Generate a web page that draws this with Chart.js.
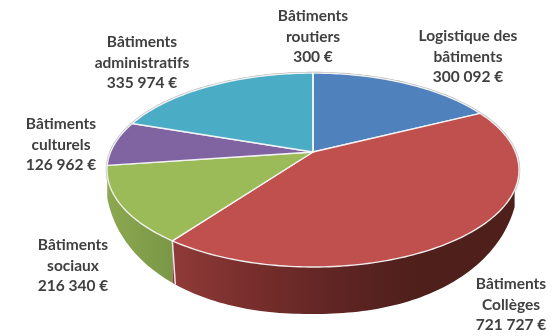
<!DOCTYPE html>
<html lang="fr">
<head>
<meta charset="UTF-8">
<title>Répartition par type de bâtiments</title>
<script src="https://cdn.jsdelivr.net/npm/chart.js"></script>
<style>
  html, body { margin: 0; padding: 0; background: #fff; }
  #wrap { position: relative; width: 552px; height: 336px; }
</style>
</head>
<body>
<div id="wrap"><canvas id="pieChart" width="552" height="336"></canvas></div>
<script>
  const categories = [
    ['Logistique des', 'bâtiments'],
    ['Bâtiments', 'Collèges'],
    ['Bâtiments', 'sociaux'],
    ['Bâtiments', 'culturels'],
    ['Bâtiments', 'administratifs'],
    ['Bâtiments', 'routiers']
  ];
  const amounts = [300092, 721727, 216340, 126962, 335974, 300];
  const sliceColors = ['#4f81bd', '#c0504d', '#9bbb59', '#8064a2', '#4bacc6', '#4bacc6'];
  // label block centres and the baseline of the first line
  const labelSpots = [[468, 41], [511, 289], [73, 250], [61, 129], [142, 47], [313, 21]];

  // tilted disc: top face is a perspective view of the unit circle
  const disc = { cx: 313, cy: 152, rx: 202.4, ry: 93.6, k: 0.186 };
  // lower edge of the wall, as a rounded curve under the top face
  const wall = { cx: 312, y0: 172, rx: 207, ry: 142, p: 2.2 };

  function project(angle) {
    const u = Math.cos(angle), v = -Math.sin(angle), d = 1 + disc.k * v;
    return { x: disc.cx + disc.rx * u / d, y: disc.cy - disc.ry * v / d };
  }

  function wallBottom(x) {
    const t = Math.min(1, Math.abs(x - wall.cx) / wall.rx);
    return wall.y0 + wall.ry * Math.pow(1 - Math.pow(t, wall.p), 1 / wall.p);
  }

  function sampleRim(start, end) {
    const n = Math.max(2, Math.ceil((end - start) / 0.02));
    const pts = [];
    for (let i = 0; i <= n; i++) pts.push(project(start + (end - start) * i / n));
    return pts;
  }

  function sideGradient(ctx, index) {
    const red = index === 1;
    const g = ctx.createLinearGradient(red ? 174 : 107, 0, red ? 420 : 176, 0);
    if (red) {
      g.addColorStop(0, '#8f3a38');
      g.addColorStop(0.35, '#752d2b');
      g.addColorStop(0.7, '#5c2422');
      g.addColorStop(1, '#4e1f1b');
    } else {
      g.addColorStop(0, '#8ca850');
      g.addColorStop(1, '#789645');
    }
    return g;
  }

  const tiltedPie = {
    id: 'tiltedPie',
    beforeDatasetDraw(chart, args) {
      const ctx = chart.ctx;
      const arcs = chart.getDatasetMeta(args.index).data;
      ctx.save();
      ctx.lineJoin = 'round';

      // faint shadow around the disc
      ctx.beginPath();
      sampleRim(0, Math.PI * 2).forEach((p, i) => i ? ctx.lineTo(p.x, p.y) : ctx.moveTo(p.x, p.y));
      ctx.closePath();
      ctx.strokeStyle = 'rgba(90,90,90,0.45)';
      ctx.lineWidth = 2.5;
      ctx.stroke();

      // the wall only shows on the two lower slices
      [1, 2].forEach((i) => {
        const arc = arcs[i];
        const from = i === 1 ? Math.max(arc.startAngle, -0.02) : arc.startAngle;
        const pts = sampleRim(from, arc.endAngle);
        ctx.beginPath();
        pts.forEach((p, j) => j ? ctx.lineTo(p.x, p.y) : ctx.moveTo(p.x, p.y));
        pts.slice().reverse().forEach((p) => ctx.lineTo(p.x, wallBottom(p.x)));
        ctx.closePath();
        ctx.fillStyle = sideGradient(ctx, i);
        ctx.fill();
      });

      // white seam between the two walls
      const seam = project(arcs[1].endAngle);
      ctx.beginPath();
      ctx.moveTo(seam.x, seam.y);
      ctx.lineTo(seam.x + 3, wallBottom(seam.x + 3));
      ctx.strokeStyle = '#e8e8e8';
      ctx.lineWidth = 1.5;
      ctx.stroke();

      // top face, one polygon per slice
      arcs.forEach((arc, i) => {
        ctx.beginPath();
        ctx.moveTo(disc.cx, disc.cy);
        sampleRim(arc.startAngle, arc.endAngle).forEach((p) => ctx.lineTo(p.x, p.y));
        ctx.closePath();
        ctx.fillStyle = sliceColors[i];
        ctx.fill();
        ctx.strokeStyle = 'rgba(245,245,245,0.95)';
        ctx.lineWidth = 1.4;
        ctx.stroke();
      });
      ctx.restore();
      return false;
    },
    afterDatasetsDraw(chart) {
      const ctx = chart.ctx;
      ctx.save();
      ctx.font = 'bold 15.5px Lato, "Open Sans", sans-serif';
      ctx.fillStyle = '#404040';
      ctx.textAlign = 'center';
      ctx.textBaseline = 'alphabetic';
      chart.data.labels.forEach((label, i) => {
        const value = chart.data.datasets[0].data[i];
        const lines = label.concat(value.toLocaleString('fr-FR').replace(/\s/g, ' ') + ' €');
        lines.forEach((line, j) => ctx.fillText(line, labelSpots[i][0], labelSpots[i][1] + j * 20.7));
      });
      ctx.restore();
    }
  };

  new Chart(document.getElementById('pieChart'), {
    type: 'pie',
    data: {
      labels: categories,
      datasets: [{ data: amounts, backgroundColor: sliceColors }]
    },
    options: {
      responsive: false,
      animation: false,
      plugins: { legend: { display: false }, tooltip: { enabled: false } }
    },
    plugins: [tiltedPie]
  });
</script>
</body>
</html>
